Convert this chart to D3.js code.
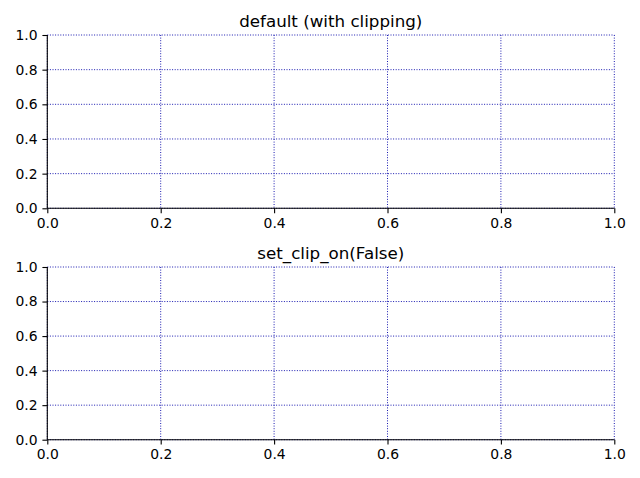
<!DOCTYPE html>
<html><head><meta charset="utf-8">
<script src="https://cdn.jsdelivr.net/npm/d3@7"></script>
<style>body{margin:0;background:#fff}svg{display:block}</style>
</head><body>
<script>
const titles = ["default (with clipping)", "set_clip_on(False)"];
const xTicks = [0, 0.2, 0.4, 0.6, 0.8, 1.0];
const yTicks = [0, 0.2, 0.4, 0.6, 0.8, 1.0];
const W = 640, H = 478;
const svg = d3.select("body").append("svg").attr("width", W).attr("height", H);
const panels = [{top: 35, bottom: 208.3}, {top: 267, bottom: 439.7}];
const left = 47.3, right = 614.3;
const font = "DejaVu Sans, sans-serif";
panels.forEach((p, i) => {
  const x = d3.scaleLinear().domain([0, 1]).range([left, right]);
  const y = d3.scaleLinear().domain([0, 1]).range([p.bottom, p.top]);
  const g = svg.append("g");
  // grid
  g.selectAll(".gx").data(xTicks).join("line")
    .attr("x1", d => x(d)).attr("x2", d => x(d)).attr("y1", p.top).attr("y2", p.bottom)
    .attr("stroke", "#1a1ab0").attr("stroke-width", 1).attr("stroke-dasharray", "1,1.6");
  g.selectAll(".gy").data(yTicks).join("line")
    .attr("y1", d => y(d)).attr("y2", d => y(d)).attr("x1", left).attr("x2", right)
    .attr("stroke", "#1a1ab0").attr("stroke-width", 1).attr("stroke-dasharray", "1,1.6");
  const xa = g.append("g").attr("transform", `translate(0,${p.bottom})`)
    .call(d3.axisBottom(x).tickValues(xTicks).tickFormat(d3.format(".1f")).tickSize(4.9).tickPadding(4.8));
  const ya = g.append("g").attr("transform", `translate(${left},0)`)
    .call(d3.axisLeft(y).tickValues(yTicks).tickFormat(d3.format(".1f")).tickSize(4.9).tickPadding(4.8));
  [xa, ya].forEach(a => {
    a.select(".domain").attr("stroke", "#000").attr("stroke-width", 1.1);
    a.selectAll(".tick line").attr("stroke", "#000").attr("stroke-width", 1.1);
    a.selectAll(".tick text").attr("fill", "#000").style("font-family", font).style("font-size", "13.9px");
  });
  xa.select(".domain").attr("d", `M${left},0H${right}`);
  ya.select(".domain").attr("d", `M0,${p.bottom}V${p.top}`);
  g.append("text").attr("x", (left + right) / 2).attr("y", p.top - 8)
    .attr("text-anchor", "middle").style("font-family", font).style("font-size", "16.7px")
    .attr("fill", "#000").text(titles[i]);
});
</script>
</body></html>
